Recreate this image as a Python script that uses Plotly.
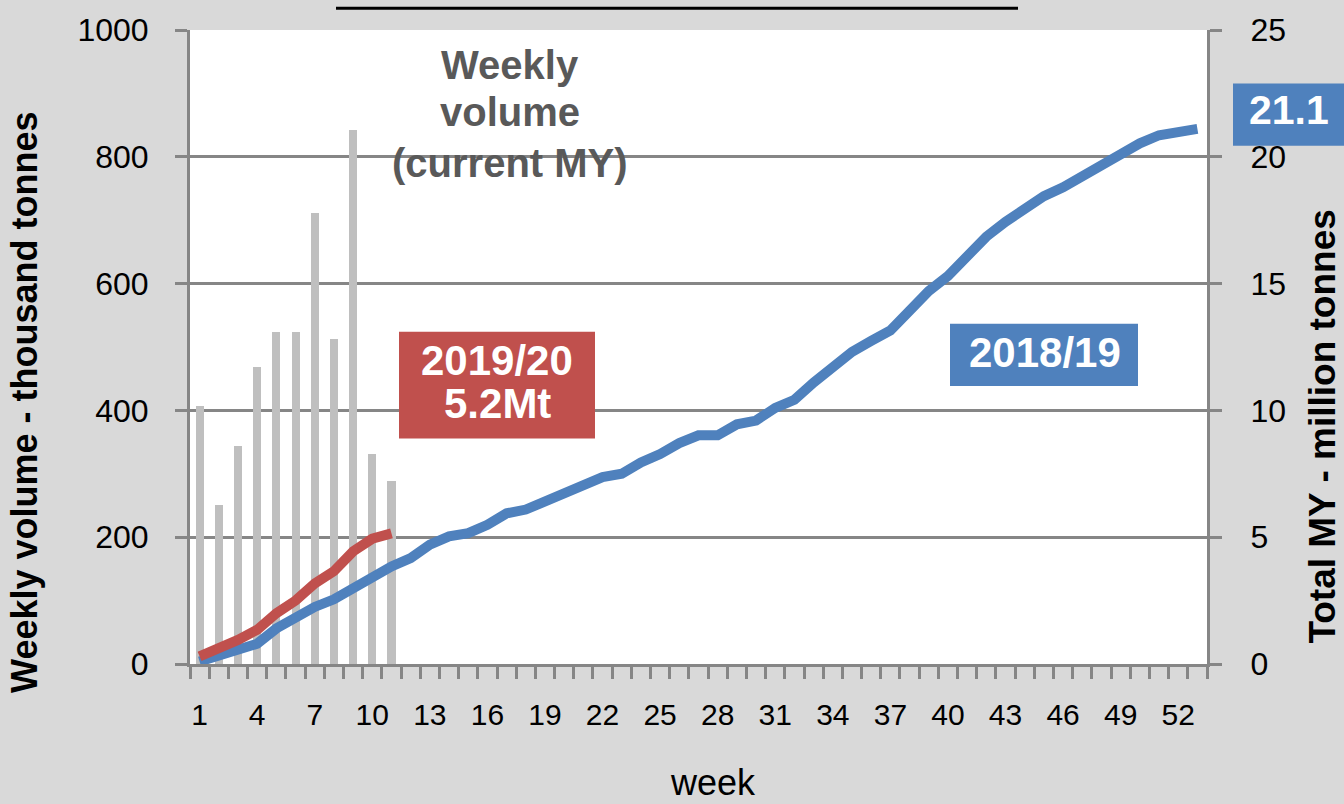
import plotly.graph_objects as go

weeks = list(range(1, 54))
tick_weeks = list(range(1, 54, 3))
tick_labels = [str(w) for w in tick_weeks]

weekly_volume_weeks = list(range(1, 12))
weekly_volume = [407, 251, 344, 468, 524, 524, 711, 512, 842, 331, 288]

total_1920_weeks = list(range(1, 12))
total_1920 = [0.3, 0.6, 0.95, 1.35, 2.0, 2.5, 3.17, 3.66, 4.44, 4.94, 5.15]

total_1819 = [0.1, 0.3, 0.55, 0.8, 1.4, 1.85, 2.25, 2.55, 3.0, 3.45, 3.85,
              4.18, 4.71, 5.03, 5.16, 5.49, 5.94, 6.09, 6.39, 6.72, 7.04,
              7.37, 7.5, 7.95, 8.28, 8.71, 9.02, 9.02, 9.45, 9.6, 10.1,
              10.42, 11.1, 11.72, 12.31, 12.74, 13.15, 13.93, 14.71, 15.3,
              16.14, 16.85, 17.44, 17.93, 18.45, 18.8, 19.26, 19.72, 20.07,
              20.53, 20.85, 20.97, 21.1]

left_ticks = [0, 200, 400, 600, 800, 1000]
right_ticks = [0, 5, 10, 15, 20, 25]

GRID = "#868686"
BLUE = "#4f81bd"
RED = "#c0504d"
BG = "#d9d9d9"
FONT = "Liberation Sans, Arial, sans-serif"

W, H = 1344, 804
L, R, T, B = 190, 1207, 23, 664
def X(px):
    return (px - L) / (R - L)
def Y(py):
    return (B - py) / (B - T)

fig = go.Figure()
fig.add_trace(go.Bar(x=weekly_volume_weeks, y=weekly_volume, width=0.42,
                     marker=dict(color="#bfbfbf", line=dict(width=0)),
                     showlegend=False, yaxis="y"))
fig.add_trace(go.Scatter(x=weeks, y=total_1819, mode="lines",
                         line=dict(color=BLUE, width=10), showlegend=False,
                         yaxis="y2"))
fig.add_trace(go.Scatter(x=total_1920_weeks, y=total_1920, mode="lines",
                         line=dict(color=RED, width=10), showlegend=False,
                         yaxis="y2"))

fig.update_layout(
    width=W, height=H,
    margin=dict(l=L, r=W - R, t=T, b=H - B, pad=0),
    paper_bgcolor=BG, plot_bgcolor="white",
    font=dict(family=FONT, color="black", size=31),
    bargap=0,
    xaxis=dict(range=[0.5, 53.5], tickmode="array", tickvals=tick_weeks,
               ticktext=tick_labels, ticks="", showgrid=False,
               showline=True, linecolor=GRID, linewidth=3,
               tickfont=dict(size=30), ticklabelstandoff=22,
               minor=dict(tickmode="linear", tick0=0.5, dtick=1,
                          ticks="outside", ticklen=12, tickwidth=3,
                          tickcolor=GRID, showgrid=False),
               zeroline=False, fixedrange=True),
    yaxis=dict(range=[0, 1000], tickmode="array", tickvals=left_ticks,
               tickfont=dict(size=32),
               showgrid=True, gridcolor=GRID, gridwidth=3,
               showline=True, linecolor=GRID, linewidth=3,
               ticks="outside", ticklen=12, tickwidth=3, tickcolor=GRID,
               ticklabelstandoff=20, zeroline=False, fixedrange=True),
    yaxis2=dict(range=[0, 25], tickmode="array", tickvals=right_ticks,
                tickfont=dict(size=32),
                overlaying="y", side="right", showgrid=False,
                showline=True, linecolor=GRID, linewidth=3,
                ticks="outside", ticklen=12, tickwidth=3, tickcolor=GRID,
                ticklabelstandoff=22, zeroline=False, fixedrange=True),
)

shapes = [
    dict(type="line", xref="paper", yref="paper", x0=X(336), x1=X(1018),
         y0=Y(1), y1=Y(1), line=dict(color="black", width=3)),
    dict(type="rect", xref="paper", yref="paper", x0=X(399), x1=X(595),
         y0=Y(436), y1=Y(328), fillcolor=RED, line=dict(width=0), layer="above"),
    dict(type="rect", xref="paper", yref="paper", x0=X(950), x1=X(1138),
         y0=Y(383), y1=Y(320), fillcolor=BLUE, line=dict(width=0), layer="above"),
    dict(type="rect", xref="paper", yref="paper", x0=X(1233), x1=X(1350),
         y0=Y(140), y1=Y(77), fillcolor=BLUE, line=dict(width=0), layer="above"),
]
fig.update_layout(shapes=shapes)

def ann(text, px, py, size, color, bold=True, angle=0):
    t = f"<b>{text}</b>" if bold else text
    fig.add_annotation(text=t, x=X(px), y=Y(py), xref="paper", yref="paper",
                       showarrow=False, xanchor="center", yanchor="middle",
                       textangle=angle,
                       font=dict(family=FONT, size=size, color=color))

ann("Weekly", 510, 58, 40, "#595959")
ann("volume", 510, 106, 40, "#595959")
ann("(current MY)", 510, 157, 40, "#595959")
ann("2019/20", 497, 357, 42, "white")
ann("5.2Mt", 497, 401, 42, "white")
ann("2018/19", 1045, 349, 42, "white")
ann("21.1", 1289, 104, 41, "white")
ann("Weekly volume - thousand tonnes", 25, 400, 36, "black", angle=-90)
ann("Total MY - million tonnes", 1323, 424, 37, "black", angle=-90)
ann("week", 713, 784, 36, "black", bold=False)

fig.write_html(
    "out.html",
    config={"displayModeBar": False},
    post_script=("document.body.style.margin='0';"
                 "document.body.style.background='" + BG + "';"
                 "document.body.style.overflow='hidden';"),
)
